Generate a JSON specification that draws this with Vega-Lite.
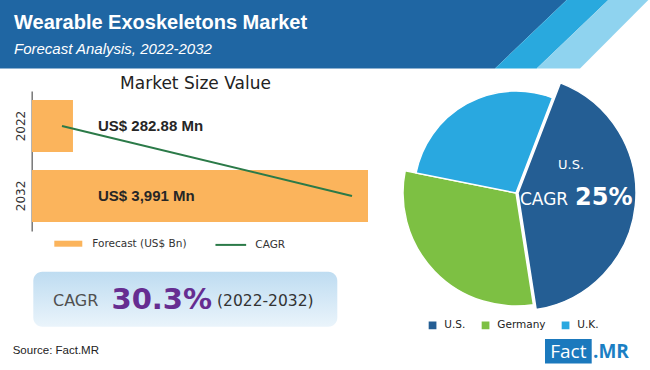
{
  "$schema": "https://vega.github.io/schema/vega-lite/v6.json",
  "width": 650,
  "height": 370,
  "autosize": {"type": "none"},
  "padding": 0,
  "background": "#ffffff",
  "config": {"view": {"stroke": null}, "font": "DejaVu Sans"},
  "data": {"values": [{}]},
  "layer": [
    {"mark": {"type": "point", "shape": "M0,0L566.7,0L495,68.5L0,68.5Z", "size": 4, "filled": true, "fill": "#1f66a3", "opacity": 1, "strokeWidth": 0}, "encoding": {"x": {"value": 0}, "y": {"value": 0}}},
    {"mark": {"type": "point", "shape": "M566.7,0L608.3,0L536.7,68.5L495,68.5Z", "size": 4, "filled": true, "fill": "#29a9de", "opacity": 1, "strokeWidth": 0}, "encoding": {"x": {"value": 0}, "y": {"value": 0}}},
    {"mark": {"type": "point", "shape": "M608.3,0L648.3,0L580,68.5L536.7,68.5Z", "size": 4, "filled": true, "fill": "#8fd3ef", "opacity": 1, "strokeWidth": 0}, "encoding": {"x": {"value": 0}, "y": {"value": 0}}},
    {"mark": {"type": "text", "text": "Wearable Exoskeletons Market", "x": 14, "y": 28.5, "align": "left", "baseline": "alphabetic", "font": "Liberation Sans", "fontWeight": "bold", "fontSize": 20, "fill": "#ffffff"}},
    {"mark": {"type": "text", "text": "Forecast Analysis, 2022-2032", "x": 14, "y": 53.5, "align": "left", "baseline": "alphabetic", "font": "Liberation Sans", "fontStyle": "italic", "fontSize": 15, "fill": "#ffffff"}},
    {"mark": {"type": "text", "text": "Market Size Value", "x": 195.5, "y": 88.5, "align": "center", "baseline": "alphabetic", "font": "DejaVu Sans", "fontSize": 17, "fill": "#222222"}},
    {
      "data": {"values": [
        {"year": 2022, "value": 282.88, "label": "US$ 282.88 Mn"},
        {"year": 2032, "value": 3991, "label": "US$ 3,991 Mn"}
      ]},
      "layer": [
        {
          "mark": {"type": "bar"},
          "encoding": {
            "y": {"field": "year", "type": "ordinal", "scale": {"range": [91, 231], "paddingInner": 0.257, "paddingOuter": 0.129},
              "axis": {"title": null, "offset": -31.7, "ticks": false, "tickSize": 0, "labelPadding": 4, "labelAngle": -90, "labelFont": "DejaVu Sans", "labelFontSize": 12, "labelColor": "#333333", "domainColor": "#777777", "domainWidth": 1.5, "grid": false}},
            "x": {"field": "value", "type": "quantitative", "scale": {"type": "pow", "exponent": 0.795, "domain": [0, 3991], "range": [32, 368]}, "axis": null},
            "fill": {"datum": "Forecast (US$ Bn)", "scale": {"range": ["#fbb45c"]},
              "legend": {"orient": "none", "legendX": 54.3, "legendY": 229.7, "title": null, "padding": 0, "symbolType": "M-1,-0.2143L1,-0.2143L1,0.2143L-1,0.2143Z", "symbolSize": 784, "symbolStrokeWidth": 0, "symbolOpacity": 1, "labelFont": "DejaVu Sans", "labelFontSize": 10.5, "labelColor": "#333333", "labelOffset": 10}}
          }
        },
        {
          "mark": {"type": "line", "strokeWidth": 2},
          "encoding": {
            "y": {"field": "year", "type": "ordinal"},
            "x": {"field": "year", "type": "quantitative", "scale": {"domain": [2022, 2032], "range": [62, 352]}, "axis": null},
            "stroke": {"datum": "CAGR", "scale": {"range": ["#2b7a48"]},
              "legend": {"orient": "none", "legendX": 214.3, "legendY": 228.4, "title": null, "padding": 0, "symbolType": "stroke", "symbolSize": 942, "symbolStrokeWidth": 2, "labelFont": "DejaVu Sans", "labelFontSize": 10.5, "labelColor": "#333333", "labelOffset": 8}}
          }
        },
        {
          "mark": {"type": "text", "x": 98, "align": "left", "baseline": "middle", "font": "Liberation Sans", "fontWeight": "bold", "fontSize": 15, "fill": "#262626"},
          "encoding": {
            "y": {"field": "year", "type": "ordinal"},
            "text": {"field": "label"}
          }
        }
      ],
      "resolve": {"scale": {"x": "independent"}}
    },
    {"mark": {"type": "rect", "x": 33.3, "x2": 337.3, "y": 271.7, "y2": 326.7, "cornerRadius": 9,
      "fill": {"gradient": "linear", "x1": 0, "y1": 0, "x2": 0, "y2": 1, "stops": [{"offset": 0, "color": "#bedcf1"}, {"offset": 1, "color": "#eaf4fb"}]}}},
    {"mark": {"type": "text", "text": "CAGR", "x": 53, "y": 306, "align": "left", "baseline": "alphabetic", "font": "DejaVu Sans", "fontSize": 16, "fill": "#505050"}},
    {"mark": {"type": "text", "text": "30.3%", "x": 111.5, "y": 309, "align": "left", "baseline": "alphabetic", "font": "DejaVu Sans", "fontWeight": "bold", "fontSize": 29, "fill": "#662d91"}},
    {"mark": {"type": "text", "text": "(2022-2032)", "x": 217, "y": 306, "align": "left", "baseline": "alphabetic", "font": "DejaVu Sans", "fontSize": 15.5, "fill": "#333333"}},
    {
      "data": {"values": [
        {"country": "U.S.", "share": 41.7},
        {"country": "Germany", "share": 30.6},
        {"country": "U.K.", "share": 27.7}
      ]},
      "encoding": {
        "y": {"value": 193},
        "theta": {"field": "share", "type": "quantitative", "stack": true, "scale": {"range": [0.367, 6.650]}},
        "order": {"field": "share", "type": "quantitative", "sort": "descending"},
        "color": {"field": "country", "type": "nominal", "scale": {"domain": ["U.S.", "Germany", "U.K."], "range": ["#245e94", "#7dc043", "#29a8e0"]},
          "legend": {"orient": "none", "legendX": 427.3, "legendY": 320, "direction": "horizontal", "title": null, "padding": 0, "symbolType": "square", "symbolSize": 60, "symbolStrokeWidth": 0, "symbolOpacity": 1, "labelFont": "DejaVu Sans", "labelFontSize": 10.5, "labelColor": "#222222", "labelOffset": 6.5, "columnPadding": 14}}
      },
      "layer": [
        {"mark": {"type": "arc", "outerRadius": 113, "stroke": "#ffffff", "strokeWidth": 1.5},
         "encoding": {"x": {"value": 516}, "opacity": {"condition": {"test": "datum.country === 'Germany'", "value": 1}, "value": 0}}},
        {"mark": {"type": "arc", "outerRadius": 102, "stroke": "#ffffff", "strokeWidth": 1.5},
         "encoding": {"x": {"value": 516}, "opacity": {"condition": {"test": "datum.country === 'U.K.'", "value": 1}, "value": 0}}},
        {"mark": {"type": "arc", "outerRadius": 118, "stroke": "#ffffff", "strokeWidth": 1.5},
         "encoding": {"x": {"value": 518}, "opacity": {"condition": {"test": "datum.country === 'U.S.'", "value": 1}, "value": 0}}}
      ]
    },
    {"mark": {"type": "text", "text": "U.S.", "x": 571, "y": 165, "align": "center", "baseline": "middle", "font": "DejaVu Sans", "fontSize": 13, "fill": "#ffffff"}},
    {"mark": {"type": "text", "text": "CAGR", "x": 520, "y": 205, "align": "left", "baseline": "alphabetic", "font": "DejaVu Sans", "fontSize": 17, "fill": "#ffffff"}},
    {"mark": {"type": "text", "text": "25%", "x": 575, "y": 205, "align": "left", "baseline": "alphabetic", "font": "DejaVu Sans", "fontWeight": "bold", "fontSize": 24, "fill": "#ffffff"}},
    {"mark": {"type": "rule", "x": 12, "x2": 638.3, "y": 334.5, "y2": 334.5, "stroke": "#a6a6a6", "strokeWidth": 2}, "encoding": {}},
    {"mark": {"type": "text", "text": "Source: Fact.MR", "x": 12.7, "y": 351, "align": "left", "baseline": "middle", "font": "Liberation Sans", "fontSize": 11.5, "fill": "#222222"}},
    {"mark": {"type": "rect", "x": 545, "x2": 591.7, "y": 339, "y2": 363.5, "fill": "#1b79bd"}},
    {"mark": {"type": "text", "text": "Fact", "x": 568.3, "y": 351.5, "align": "center", "baseline": "middle", "font": "Open Sans", "fontSize": 19, "fill": "#ffffff"}},
    {"mark": {"type": "text", "text": ".MR", "x": 593, "y": 351.5, "align": "left", "baseline": "middle", "font": "Open Sans", "fontWeight": "bold", "fontSize": 19, "fill": "#1b7fc4"}}
  ],
  "resolve": {
    "scale": {"x": "independent", "y": "independent", "theta": "independent", "color": "independent", "fill": "independent", "stroke": "independent", "opacity": "independent"},
    "legend": {"fill": "independent", "stroke": "independent", "color": "independent"}
  }
}
